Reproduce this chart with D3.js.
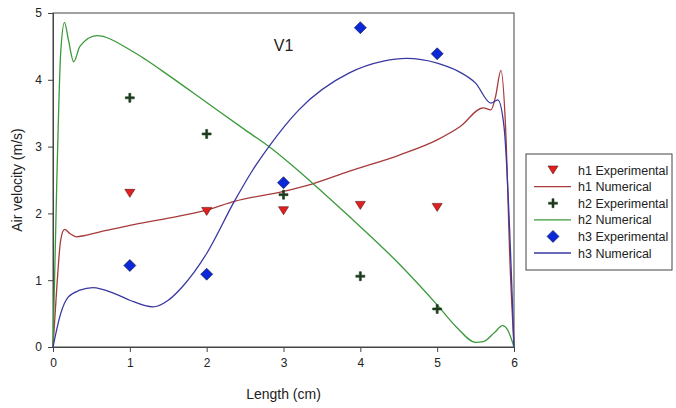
<!DOCTYPE html>
<html>
<head>
<meta charset="utf-8">
<script src="https://cdn.jsdelivr.net/npm/d3@7"></script>
<style>
  body { margin: 0; background: #fff; }
  text { font-family: Arial, "Liberation Sans", sans-serif; fill: #222; }
</style>
</head>
<body>
<div id="chart"></div>
<script>
// experimental positions (cm)
var expX = [1, 2, 3, 4, 5];
var h1Exp = [2.30, 2.03, 2.04, 2.12, 2.09];
var h2Exp = [3.73, 3.19, 2.28, 1.06, 0.57];
var h3Exp = [1.22, 1.09, 2.46, 4.78, 4.39];

// numerical curves
var h1NumX = [0, 0.05, 0.1, 0.15, 0.22, 0.3, 0.6, 1, 1.5, 2, 2.36, 3, 3.37, 3.85, 4.5, 5, 5.3, 5.6, 5.7, 5.76, 5.83, 5.89, 5.95, 6];
var h1NumY = [0, 0.9, 1.6, 1.76, 1.7, 1.65, 1.72, 1.82, 1.93, 2.05, 2.18, 2.33, 2.44, 2.63, 2.87, 3.1, 3.3, 3.58, 3.55, 3.75, 4.14, 3.3, 1.2, 0];
var h2NumX = [0, 0.05, 0.1, 0.15, 0.2, 0.27, 0.35, 0.57, 1, 1.21, 1.5, 2, 2.5, 2.81, 3.37, 3.85, 4.5, 5, 5.25, 5.5, 5.6, 5.75, 5.85, 5.92, 6];
var h2NumY = [0, 2.5, 4.4, 4.86, 4.6, 4.27, 4.5, 4.66, 4.45, 4.3, 4.07, 3.66, 3.25, 3.0, 2.46, 1.96, 1.25, 0.63, 0.3, 0.07, 0.08, 0.22, 0.32, 0.25, 0];
var h3NumX = [0, 0.1, 0.2, 0.35, 0.52, 0.8, 1, 1.3, 1.5, 1.69, 2, 2.36, 2.6, 2.81, 3.2, 3.85, 4.3, 4.6, 5, 5.27, 5.5, 5.7, 5.79, 5.87, 6];
var h3NumY = [0, 0.5, 0.75, 0.85, 0.89, 0.8, 0.7, 0.6, 0.7, 0.91, 1.4, 2.18, 2.65, 3.0, 3.55, 4.1, 4.28, 4.32, 4.25, 4.13, 3.95, 3.65, 3.7, 3.3, 0];

var xTicks = [0, 1, 2, 3, 4, 5, 6];
var yTicks = [0, 1, 2, 3, 4, 5];
var legendLabels = ["h1 Experimental", "h1 Numerical", "h2 Experimental", "h2 Numerical", "h3 Experimental", "h3 Numerical"];

var svgWidth = 676;
var svgHeight = 408;
var margin = { top: 13, right: 162, bottom: 61, left: 53 };
var width = svgWidth - margin.left - margin.right;
var height = svgHeight - margin.top - margin.bottom;

var red = "#a83a3a", green = "#3a9a3a", blue = "#3838a0";

var svg = d3.select("#chart")
	.append("svg")
	.attr("width", svgWidth)
	.attr("height", svgHeight);

var chartGroup = svg.append("g")
	.attr("transform", `translate(${margin.left}, ${margin.top})`);

var x = d3.scaleLinear().domain([0, 6]).range([0, width]);
var y = d3.scaleLinear().domain([0, 5]).range([height, 0]);

// frame top/right
chartGroup.append("rect")
	.attr("x", 0).attr("y", 0)
	.attr("width", width).attr("height", height)
	.attr("fill", "none")
	.attr("stroke", "#444")
	.attr("stroke-width", 1);

var xAxis = chartGroup.append("g")
	.attr("transform", `translate(0, ${height})`)
	.call(d3.axisBottom(x).tickValues(xTicks).tickSize(5).tickPadding(6).tickFormat(d3.format("d")));
var yAxis = chartGroup.append("g")
	.call(d3.axisLeft(y).tickValues(yTicks).tickSize(5).tickPadding(6).tickFormat(d3.format("d")));

[xAxis, yAxis].forEach(function(a) {
	a.select(".domain").attr("stroke", "#444");
	a.selectAll(".tick line").attr("stroke", "#444");
	a.selectAll(".tick text").attr("font-size", 12).attr("fill", "#222");
});

var line = d3.line()
	.x(d => x(d[0]))
	.y(d => y(d[1]))
	.curve(d3.curveMonotoneX);

var numSeries = [
	{ xs: h1NumX, ys: h1NumY, color: red },
	{ xs: h2NumX, ys: h2NumY, color: green },
	{ xs: h3NumX, ys: h3NumY, color: blue }
];

numSeries.forEach(function(s) {
	chartGroup.append("path")
		.datum(s.xs.map((v, i) => [v, s.ys[i]]))
		.attr("d", line)
		.attr("fill", "none")
		.attr("stroke", s.color)
		.attr("stroke-width", 1.3);
});

// symbols
var triDown = "M-5,-4L5,-4L0,4Z";
var plus = "M-1,-4.5H1V-1H4.5V1H1V4.5H-1V1H-4.5V-1H-1Z";
var diamond = "M0,-6L6,0L0,6L-6,0Z";

function drawPoints(vals, path, fill, stroke) {
	chartGroup.selectAll(null)
		.data(vals)
		.enter()
		.append("path")
		.attr("d", path)
		.attr("transform", (d, i) => `translate(${x(expX[i])}, ${y(d)})`)
		.attr("fill", fill)
		.attr("stroke", stroke)
		.attr("stroke-width", 0.6);
}

drawPoints(h1Exp, triDown, "#e02020", "#5a1010");
drawPoints(h2Exp, plus, "#1c3a1c", "#1c3a1c");
drawPoints(h3Exp, diamond, "#0a28d8", "#101040");

chartGroup.append("text")
	.attr("x", x(3))
	.attr("y", 38)
	.attr("text-anchor", "middle")
	.attr("font-size", 16)
	.text("V1");

// axis labels
svg.append("text")
	.attr("x", margin.left + width / 2)
	.attr("y", 399)
	.attr("text-anchor", "middle")
	.attr("font-size", 14)
	.text("Length (cm)");

svg.append("text")
	.attr("transform", `translate(22, ${margin.top + height / 2}) rotate(-90)`)
	.attr("text-anchor", "middle")
	.attr("font-size", 14)
	.text("Air velocity (m/s)");

// legend
var legend = svg.append("g").attr("transform", "translate(526, 154)");
legend.append("rect")
	.attr("width", 146).attr("height", 116)
	.attr("fill", "#fff")
	.attr("stroke", "#444");

var legendItems = [
	{ type: "sym", d: triDown, fill: "#e02020", stroke: "#5a1010" },
	{ type: "line", color: red },
	{ type: "sym", d: plus, fill: "#1c3a1c", stroke: "#1c3a1c" },
	{ type: "line", color: green },
	{ type: "sym", d: diamond, fill: "#0a28d8", stroke: "#101040" },
	{ type: "line", color: blue }
];

legendItems.forEach(function(it, i) {
	var yy = 16 + i * 16.6;
	if (it.type === "line") {
		legend.append("line")
			.attr("x1", 8).attr("x2", 45)
			.attr("y1", yy).attr("y2", yy)
			.attr("stroke", it.color)
			.attr("stroke-width", 1.3);
	} else {
		legend.append("path")
			.attr("d", it.d)
			.attr("transform", `translate(27, ${yy})`)
			.attr("fill", it.fill)
			.attr("stroke", it.stroke)
			.attr("stroke-width", 0.6);
	}
	legend.append("text")
		.attr("x", 52)
		.attr("y", yy + 4.5)
		.attr("font-size", 12.5)
		.text(legendLabels[i]);
});
</script>
</body>
</html>
